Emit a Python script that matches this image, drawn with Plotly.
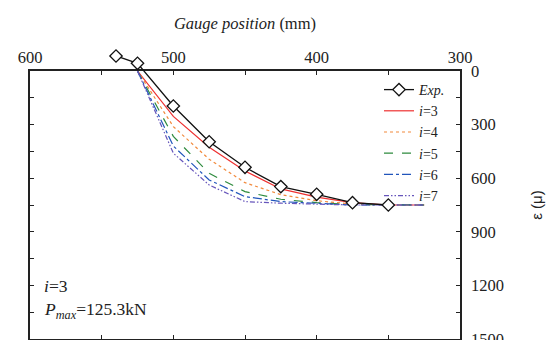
import plotly.graph_objects as go

# ---- data ----
exp_x = [540, 525, 500, 475, 450, 425, 400, 375, 350]
exp_y = [-84, -43, 196, 396, 539, 647, 690, 737, 750]

model_x = [525, 500, 475, 450, 425, 400, 375, 350, 325]
i3 = [0, 254, 427, 560, 660, 706, 737, 750, 750]
i4 = [0, 311, 494, 625, 692, 726, 745, 750, 750]
i5 = [0, 366, 573, 675, 718, 737, 748, 750, 750]
i6 = [0, 420, 610, 703, 731, 741, 750, 750, 750]
i7 = [0, 460, 638, 731, 740, 745, 750, 750, 750]

x_ticks = [600, 550, 500, 450, 400, 350, 300]
x_labels = ["600", "", "500", "", "400", "", "300"]
y_ticks = [0, 150, 300, 450, 600, 750, 900, 1050, 1200, 1350, 1500]
y_labels = ["0", "", "300", "", "600", "", "900", "", "1200", "", "1500"]

# ---- layout geometry ----
W, H = 554, 340
ml, mr, mt, mb = 30, 94, 40, 1
plot_top_px = 71
paper_h = H - mt - mb
main_h = H - mb - plot_top_px
main_top = main_h / paper_h
y_min, y_max = 0, 1500
extra = (plot_top_px - mt) * (y_max - y_min) / main_h

serif = "Times New Roman"
fcol = "#222222"

fig = go.Figure()

fig.add_trace(go.Scatter(
    x=exp_x, y=exp_y, name="<i>Exp.</i>", xaxis="x2", yaxis="y2",
    mode="lines+markers",
    line=dict(color="#111111", width=1.3),
    marker=dict(symbol="diamond", size=9.5, color="white",
                line=dict(color="#111111", width=1.3)),
))

styles = [
    ("<i>i</i>=3", i3, "#ee3030", "solid"),
    ("<i>i</i>=4", i4, "#f28a3c", "dot"),
    ("<i>i</i>=5", i5, "#2e8b3e", "dash"),
    ("<i>i</i>=6", i6, "#2155bb", "dashdot"),
    ("<i>i</i>=7", i7, "#6655bb", "5px,2px,1.5px,2px,1.5px,2px"),
]
for name, ys, col, dash in styles:
    fig.add_trace(go.Scatter(
        x=model_x, y=ys, name=name, mode="lines",
        line=dict(color=col, width=1.2, dash=dash),
    ))

axis_common = dict(
    showline=True, linecolor=fcol, linewidth=1.5,
    ticks="inside", ticklen=4, tickwidth=1.2, tickcolor=fcol,
    mirror="ticks", showgrid=False, zeroline=False,
    tickfont=dict(family=serif, size=16.5, color=fcol),
    ticklabeloverflow="allow", automargin=False,
)

fig.update_layout(
    width=W, height=H,
    margin=dict(l=ml, r=mr, t=mt, b=mb, autoexpand=False),
    plot_bgcolor="rgba(0,0,0,0)", paper_bgcolor="white",
    xaxis=dict(
        **axis_common, side="top", range=[600, 300], domain=[0, 1],
        tickvals=x_ticks, ticktext=x_labels, anchor="y",
        title=dict(text="<i>Gauge position</i> (mm)",
                   font=dict(family=serif, size=16.5, color=fcol), standoff=14),
    ),
    yaxis=dict(
        **axis_common, side="right", range=[y_max, y_min],
        domain=[0, main_top], anchor="x",
        tickvals=y_ticks, ticktext=y_labels, ticklabelstandoff=6,
        title=dict(text="ε (μ)",
                   font=dict(family="Liberation Sans", size=15, color=fcol),
                   standoff=28),
    ),
    xaxis2=dict(range=[600, 300], domain=[0, 1], anchor="y2", visible=False),
    yaxis2=dict(range=[y_max, y_min - extra], domain=[0, 1], anchor="x2",
                visible=False),
    legend=dict(
        x=(379 - ml) / (W - ml - mr), y=(H - mb - 74) / paper_h,
        xanchor="left", yanchor="top", bgcolor="rgba(0,0,0,0)",
        font=dict(family=serif, size=14, color=fcol),
        tracegroupgap=0, itemwidth=30,
    ),
    showlegend=True,
    annotations=[
        dict(text="<i>i</i>=3", xref="x domain", yref="y domain",
             x=(42 - ml) / (W - ml - mr), y=(H - mb - 286) / main_h,
             xanchor="left", yanchor="middle", showarrow=False,
             font=dict(family=serif, size=17.5, color=fcol)),
        dict(text="<i>P</i><sub><i>max</i></sub>=125.3kN",
             xref="x domain", yref="y domain",
             x=(42 - ml) / (W - ml - mr), y=(H - mb - 310) / main_h,
             xanchor="left", yanchor="middle", showarrow=False,
             font=dict(family=serif, size=17.5, color=fcol)),
    ],
)

fig.write_html("out.html")
